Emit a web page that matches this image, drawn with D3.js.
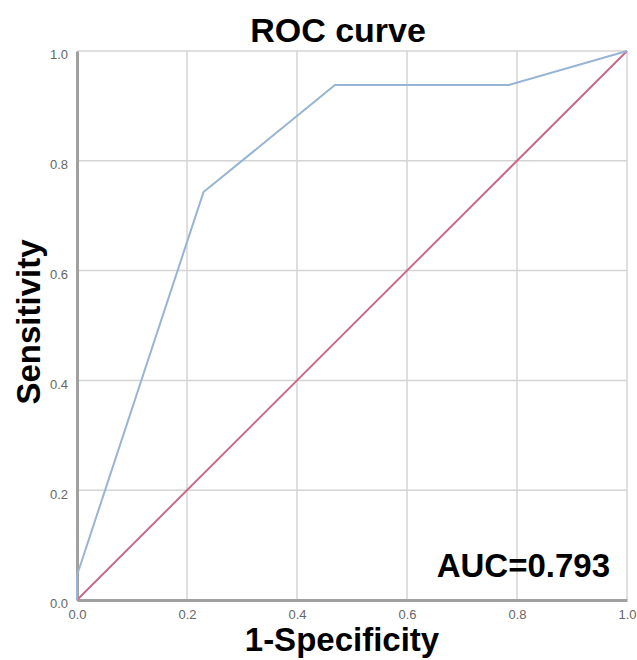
<!DOCTYPE html>
<html>
<head>
<meta charset="utf-8">
<script src="https://cdn.jsdelivr.net/npm/d3@7"></script>
<style>
    body { margin: 0; background: #fff; }
    text { font-family: Arial, "Liberation Sans", sans-serif; }
</style>
</head>
<body>
<script>
    // ROC points
    const fpr = [0, 0, 0.23, 0.469, 0.785, 1]
    const tpr = [0, 0.045, 0.743, 0.938, 0.938, 1]
    const refLine = [0, 1]
    const ticks = [0, 0.2, 0.4, 0.6, 0.8, 1.0]
    const tickLabels = ['0.0', '0.2', '0.4', '0.6', '0.8', '1.0']
    const aucLabel = 'AUC=0.793'

    const margin = { top: 51, right: 10, bottom: 60, left: 77 }
    const width = 637
    const height = 660
    const innerW = 550
    const innerH = 549

    const svg = d3.select('body').append('svg')
        .attr('width', width)
        .attr('height', height)

    const x = d3.scaleLinear().domain([0, 1]).range([margin.left, margin.left + innerW])
    const y = d3.scaleLinear().domain([0, 1]).range([margin.top + innerH, margin.top])

    // grid
    svg.append('g').selectAll('line').data(ticks.slice(1)).enter().append('line')
        .attr('x1', d => x(d)).attr('x2', d => x(d))
        .attr('y1', y(0)).attr('y2', y(1))
        .attr('stroke', '#d4d4d4').attr('stroke-width', 1.5)
    svg.append('g').selectAll('line').data(ticks.slice(1)).enter().append('line')
        .attr('x1', x(0)).attr('x2', x(1))
        .attr('y1', d => y(d)).attr('y2', d => y(d))
        .attr('stroke', '#d4d4d4').attr('stroke-width', 1.5)

    // axes
    const xAxis = svg.append('g')
        .attr('transform', `translate(0,${y(0)})`)
        .call(d3.axisBottom(x).tickValues(ticks).tickFormat((d, i) => tickLabels[i]).tickSize(0).tickPadding(10))
    const yAxis = svg.append('g')
        .attr('transform', `translate(${x(0)},0)`)
        .call(d3.axisLeft(y).tickValues(ticks).tickFormat((d, i) => tickLabels[i]).tickSize(0).tickPadding(9))
    ;[xAxis, yAxis].forEach(a => {
        a.select('.domain').attr('stroke', '#a0a0a0').attr('stroke-width', 3)
        a.selectAll('text').attr('font-size', 13).attr('fill', '#666')
            .attr('font-family', 'Arial, "Liberation Sans", sans-serif')
    })
    yAxis.selectAll('text').attr('dy', '0.6em')

    const line = d3.line().x(d => x(d[0])).y(d => y(d[1]))

    // reference diagonal
    svg.append('path')
        .datum(refLine.map(v => [v, v]))
        .attr('d', line)
        .attr('fill', 'none')
        .attr('stroke', '#c96b8b')
        .attr('stroke-width', 2)

    // roc curve
    svg.append('path')
        .datum(fpr.map((v, i) => [v, tpr[i]]))
        .attr('d', line)
        .attr('fill', 'none')
        .attr('stroke', '#98b4d4')
        .attr('stroke-width', 2)

    svg.append('text')
        .attr('x', 338).attr('y', 42)
        .attr('text-anchor', 'middle')
        .attr('font-size', 34).attr('font-weight', 'bold')
        .text('ROC curve')

    svg.append('text')
        .attr('x', 342).attr('y', 651)
        .attr('text-anchor', 'middle')
        .attr('font-size', 33).attr('font-weight', 'bold')
        .text('1-Specificity')

    svg.append('text')
        .attr('transform', 'translate(40,322) rotate(-90)')
        .attr('text-anchor', 'middle')
        .attr('font-size', 33).attr('font-weight', 'bold')
        .text('Sensitivity')

    svg.append('text')
        .attr('x', 610).attr('y', 577)
        .attr('text-anchor', 'end')
        .attr('font-size', 33).attr('font-weight', 'bold')
        .text(aucLabel)
</script>
</body>
</html>
